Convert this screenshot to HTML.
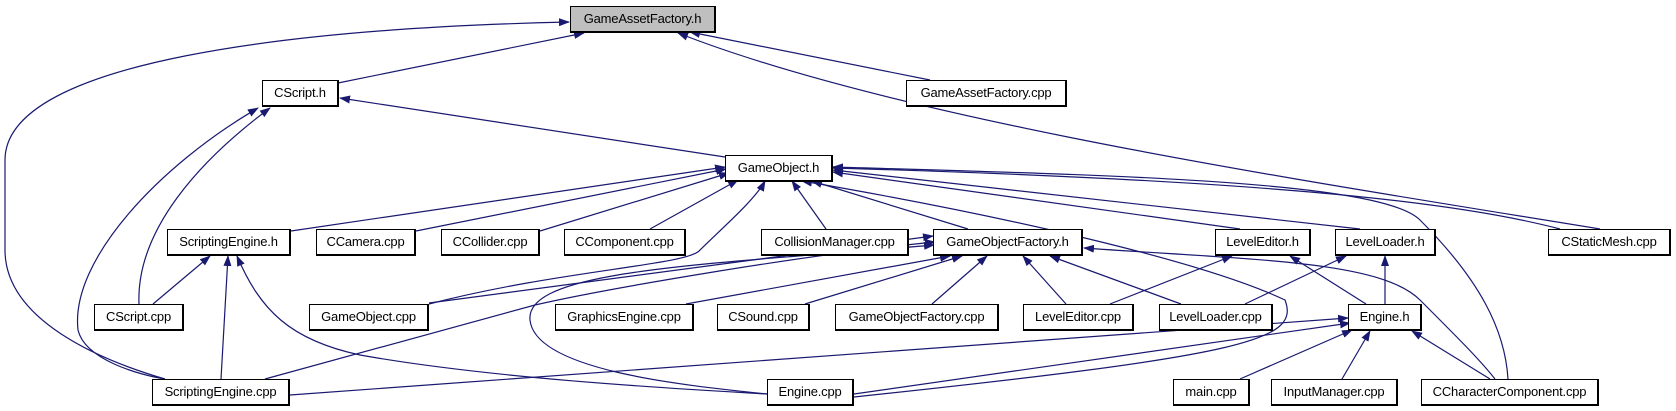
<!DOCTYPE html>
<html><head><meta charset="utf-8"><style>
body{margin:0;background:#fff;width:1676px;height:411px;overflow:hidden;position:relative;font-family:"Liberation Sans",Arial,sans-serif}
.n{position:absolute;box-sizing:border-box;border:1px solid #000;border-right-width:2px;border-bottom-width:2px;background:#fff;font-size:13px;line-height:24px;text-align:center;white-space:nowrap;height:27px;letter-spacing:-0.2px}
svg{position:absolute;left:0;top:0}
</style></head><body>
<svg width="1676" height="411" viewBox="0 0 1676 411">
<defs><marker id="a" markerWidth="11" markerHeight="8" refX="10" refY="4" orient="auto" markerUnits="userSpaceOnUse"><path d="M0,0 L11,4 L0,8 z" fill="#191970"/></marker></defs>
<g fill="none" stroke="#191970" stroke-width="1.2" marker-end="url(#a)">
<path d="M338,83 L584,33"/>
<path d="M165,379 C100,360 5,320 5,250 L5,160 C5,60 300,28 569,22"/>
<path d="M930,80 L690,32"/>
<path d="M1600,229 C1300,180 900,120 678,33"/>
<path d="M725,157 L340,98"/>
<path d="M139,304 C136,230 200,160 270,108"/>
<path d="M165,379 C140,375 85,360 78,330 C70,260 160,165 258,108"/>
<path d="M291,231 L725,167"/>
<path d="M416,231 L726,169"/>
<path d="M540,231 L729,173"/>
<path d="M650,229 L738,180"/>
<path d="M826,229 L792,181"/>
<path d="M968,229 L812,181"/>
<path d="M429,304 C560,270 690,265 700,250 C720,230 755,200 765,181"/>
<path d="M854,397 C1250,355 1300,340 1285,300 C1200,260 1000,215 802,181"/>
<path d="M1240,229 L833,172"/>
<path d="M1360,229 L833,170"/>
<path d="M1560,229 C1450,200 1250,180 833,168"/>
<path d="M1508,379 C1505,330 1480,280 1420,220 C1380,180 1100,175 833,167"/>
<path d="M153,304 L210,256"/>
<path d="M221,379 L228,256"/>
<path d="M767,394 C700,390 500,380 360,355 C290,340 260,310 237,256"/>
<path d="M429,303 L933,236"/>
<path d="M265,379 L535,305 C600,290 800,255 935,242"/>
<path d="M686,304 L950,256"/>
<path d="M805,304 L962,256"/>
<path d="M932,304 L987,256"/>
<path d="M1066,304 L1023,256"/>
<path d="M1181,304 L1050,256"/>
<path d="M767,394 C680,385 535,370 530,320 C525,270 700,265 934,245"/>
<path d="M1495,379 C1480,360 1460,340 1420,300 C1380,260 1250,260 1084,248"/>
<path d="M1110,304 L1232,256"/>
<path d="M1366,304 L1290,256"/>
<path d="M1245,304 L1346,256"/>
<path d="M1385,304 L1385,256"/>
<path d="M290,395 L1348,318"/>
<path d="M854,394 L1350,323"/>
<path d="M1240,379 L1352,330"/>
<path d="M1342,379 L1370,331"/>
<path d="M1490,379 L1412,331"/>
</g></svg>
<div class="n" style="left:570px;top:6px;width:146px;background:#bfbfbf">GameAssetFactory.h</div>
<div class="n" style="left:262px;top:80px;width:77px">CScript.h</div>
<div class="n" style="left:906px;top:80px;width:161px">GameAssetFactory.cpp</div>
<div class="n" style="left:725px;top:155px;width:108px">GameObject.h</div>
<div class="n" style="left:167px;top:229px;width:124px">ScriptingEngine.h</div>
<div class="n" style="left:316px;top:229px;width:100px">CCamera.cpp</div>
<div class="n" style="left:441px;top:229px;width:99px">CCollider.cpp</div>
<div class="n" style="left:564px;top:229px;width:122px">CComponent.cpp</div>
<div class="n" style="left:761px;top:229px;width:148px">CollisionManager.cpp</div>
<div class="n" style="left:933px;top:229px;width:150px">GameObjectFactory.h</div>
<div class="n" style="left:1215px;top:229px;width:96px">LevelEditor.h</div>
<div class="n" style="left:1335px;top:229px;width:101px">LevelLoader.h</div>
<div class="n" style="left:1548px;top:229px;width:123px">CStaticMesh.cpp</div>
<div class="n" style="left:94px;top:304px;width:90px">CScript.cpp</div>
<div class="n" style="left:309px;top:304px;width:120px">GameObject.cpp</div>
<div class="n" style="left:555px;top:304px;width:139px">GraphicsEngine.cpp</div>
<div class="n" style="left:717px;top:304px;width:93px">CSound.cpp</div>
<div class="n" style="left:835px;top:304px;width:164px">GameObjectFactory.cpp</div>
<div class="n" style="left:1023px;top:304px;width:111px">LevelEditor.cpp</div>
<div class="n" style="left:1159px;top:304px;width:114px">LevelLoader.cpp</div>
<div class="n" style="left:1348px;top:304px;width:74px">Engine.h</div>
<div class="n" style="left:152px;top:379px;width:138px">ScriptingEngine.cpp</div>
<div class="n" style="left:767px;top:379px;width:87px">Engine.cpp</div>
<div class="n" style="left:1173px;top:379px;width:77px">main.cpp</div>
<div class="n" style="left:1271px;top:379px;width:127px">InputManager.cpp</div>
<div class="n" style="left:1421px;top:379px;width:178px">CCharacterComponent.cpp</div>
</body></html>
